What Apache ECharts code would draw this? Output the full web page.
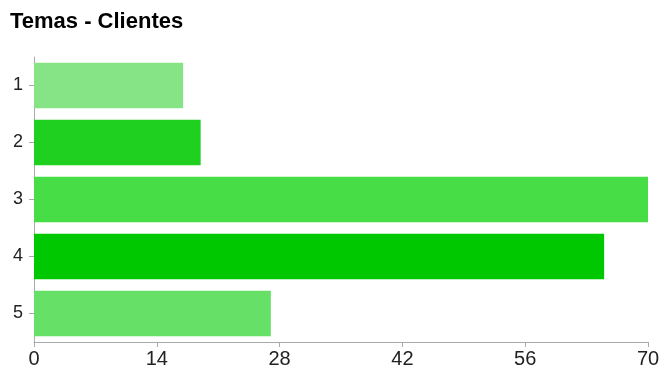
<!DOCTYPE html>
<html>
<head>
<meta charset="utf-8">
<script src="https://cdn.jsdelivr.net/npm/echarts@6/dist/echarts.min.js"></script>
<style>
  html, body { margin: 0; padding: 0; background: #fff; }
  #chart { width: 665px; height: 372px; }
</style>
</head>
<body>
<div id="chart"></div>
<script>
// Topics rated by clients: count of responses per topic
const categories = ['1', '2', '3', '4', '5'];
const values = [17, 19, 70, 65, 27];
const barColors = ['#86e486', '#20d020', '#46dd46', '#00c800', '#66e066'];
const xTicks = { min: 0, max: 70, interval: 14 };

const chart = echarts.init(document.getElementById('chart'));
chart.setOption({
  animation: false,
  title: {
    text: 'Temas - Clientes',
    left: 5,
    top: 6,
    textStyle: { fontFamily: 'Liberation Sans, Arial', fontWeight: 'bold', fontSize: 22, color: '#000' }
  },
  grid: { left: 34, right: 17, top: 57, bottom: 30 },
  xAxis: {
    type: 'value',
    min: xTicks.min,
    max: xTicks.max,
    interval: xTicks.interval,
    splitLine: { show: false },
    axisLine: { show: true, lineStyle: { color: '#aaa' } },
    axisTick: { show: true, length: 5, lineStyle: { color: '#aaa' } },
    axisLabel: { fontFamily: 'Liberation Sans, Arial', fontSize: 20, color: '#222', margin: 7 }
  },
  yAxis: {
    type: 'category',
    data: categories,
    inverse: true,
    axisLine: { show: true, lineStyle: { color: '#aaa' } },
    axisTick: { show: true, alignWithLabel: true, length: 5, lineStyle: { color: '#aaa' } },
    axisLabel: { fontFamily: 'Liberation Sans, Arial', fontSize: 18, color: '#222', margin: 11 }
  },
  series: [{
    type: 'bar',
    data: values.map((v, i) => ({ value: v, itemStyle: { color: barColors[i] } })),
    barCategoryGap: '20%'
  }]
});
</script>
</body>
</html>
